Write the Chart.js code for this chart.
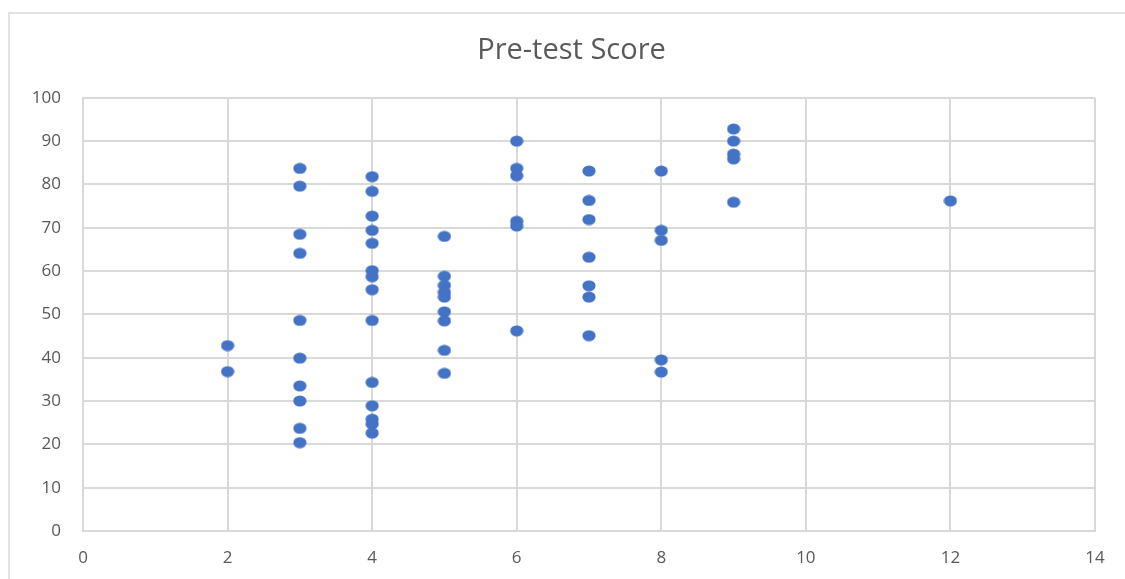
<!DOCTYPE html>
<html>
<head>
<meta charset="utf-8">
<script src="https://cdn.jsdelivr.net/npm/chart.js@4.4.0/dist/chart.umd.min.js"></script>
<style>
  html, body { margin: 0; padding: 0; background: #ffffff; }
  #wrap { position: absolute; left: 0; top: 0; width: 1125px; height: 579px; }
</style>
</head>
<body>
<div id="wrap"><canvas id="c" width="1125" height="579"></canvas></div>
<script>
// Data
const chartTitle = "Pre-test Score";
const xValues = [
  2, 2,
  3, 3, 3, 3, 3, 3, 3, 3, 3, 3,
  4, 4, 4, 4, 4, 4, 4, 4, 4, 4, 4, 4, 4, 4,
  5, 5, 5, 5, 5, 5, 5, 5, 5,
  6, 6, 6, 6, 6, 6,
  7, 7, 7, 7, 7, 7, 7,
  8, 8, 8, 8, 8,
  9, 9, 9, 9, 9,
  12
];
const yValues = [
  42.8, 36.8,
  83.7, 79.6, 68.5, 64.1, 48.6, 39.9, 33.5, 30.0, 23.7, 20.4,
  81.8, 78.4, 72.7, 69.4, 66.4, 60.1, 58.7, 55.7, 48.6, 34.3, 28.9, 25.8, 24.7, 22.6,
  68.0, 58.8, 56.7, 55.1, 54.0, 50.6, 48.5, 41.7, 36.4,
  90.0, 83.7, 82.0, 71.5, 70.4, 46.2,
  83.1, 76.3, 71.9, 63.2, 56.6, 54.0, 45.1,
  83.1, 69.4, 67.1, 39.5, 36.7,
  92.8, 90.0, 87.0, 85.9, 75.9,
  76.2
];
const xTicks = [0, 2, 4, 6, 8, 10, 12, 14];
const yTicks = [0, 10, 20, 30, 40, 50, 60, 70, 80, 90, 100];

const points = xValues.map((x, i) => ({ x: x, y: yValues[i] }));

// elliptical marker like the reference
const marker = document.createElement('canvas');
marker.width = 14; marker.height = 12;
(function () {
  const g = marker.getContext('2d');
  g.fillStyle = '#4472C4';
  g.beginPath();
  g.ellipse(7, 6, 6.6, 5.6, 0, 0, Math.PI * 2);
  g.fill();
})();

const framePlugin = {
  id: 'frame',
  afterLayout(chart) {
    // centre the title over the plot area like the reference
    if (chart.titleBlock) {
      chart.titleBlock.left = 48;
      chart.titleBlock.right = 1095;
    }
  },
  beforeDraw(chart) {
    const ctx = chart.ctx;
    ctx.save();
    ctx.fillStyle = '#ffffff';
    ctx.fillRect(0, 0, chart.width, chart.height);
    ctx.strokeStyle = '#d9d9d9';
    ctx.lineWidth = 1.5;
    ctx.strokeRect(9, 13, 1130, 600);
    ctx.restore();
  }
};

const gridColor = '#d9d9d9';
const labelColor = '#595959';

new Chart(document.getElementById('c'), {
  type: 'scatter',
  data: {
    datasets: [{
      label: chartTitle,
      data: points,
      pointStyle: marker,
      pointRadius: 6,
      pointHoverRadius: 6
    }]
  },
  options: {
    responsive: false,
    animation: false,
    devicePixelRatio: 1,
    layout: { padding: { left: 0, right: 30, top: 33, bottom: 0 } },
    plugins: {
      legend: { display: false },
      tooltip: { enabled: false },
      title: {
        display: true,
        text: chartTitle,
        color: labelColor,
        font: { family: 'Open Sans', size: 29, weight: 'normal' },
        padding: { top: 0, bottom: 30 }
      }
    },
    scales: {
      x: {
        type: 'linear',
        min: xTicks[0],
        max: xTicks[xTicks.length - 1],
        afterBuildTicks: s => { s.ticks = xTicks.map(v => ({ value: v })); },
        afterFit: s => { s.height = 48; },
        grid: { color: gridColor, lineWidth: 2, drawTicks: false },
        border: { color: gridColor, width: 2 },
        ticks: {
          color: labelColor,
          padding: 17,
          maxRotation: 0,
          font: { family: 'Open Sans', size: 17 }
        }
      },
      y: {
        type: 'linear',
        min: yTicks[0],
        max: yTicks[yTicks.length - 1],
        afterBuildTicks: s => { s.ticks = yTicks.map(v => ({ value: v })); },
        afterFit: s => { s.width = 83; },
        grid: { color: gridColor, lineWidth: 2, drawTicks: false },
        border: { color: gridColor, width: 2 },
        ticks: {
          color: labelColor,
          padding: 22,
          font: { family: 'Open Sans', size: 17 }
        }
      }
    }
  },
  plugins: [framePlugin]
});
</script>
</body>
</html>
